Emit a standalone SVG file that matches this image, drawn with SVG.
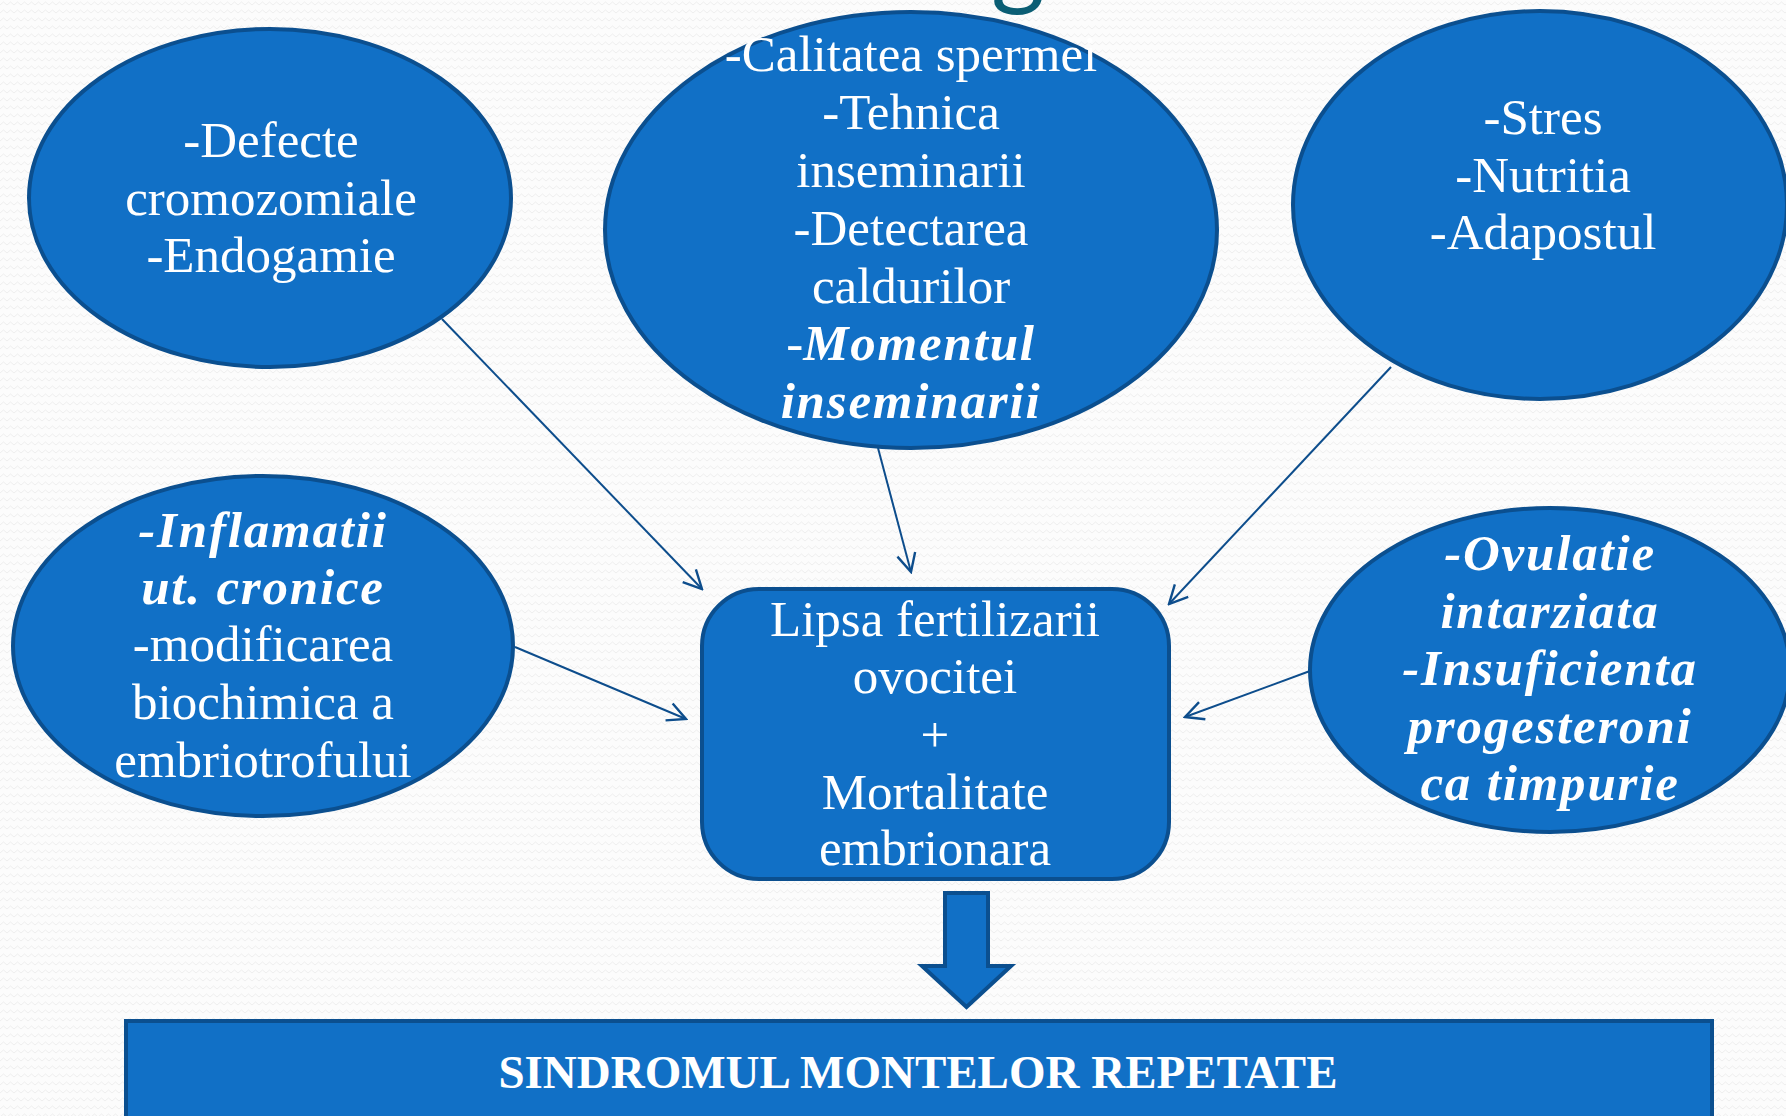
<svg xmlns="http://www.w3.org/2000/svg" width="1786" height="1116" viewBox="0 0 1786 1116">
<style>
.node{fill:#1170c6;stroke:#0b4f8f;stroke-width:4}
.t{font-family:"Liberation Serif","Times New Roman",serif;font-size:51px;fill:#ffffff;text-anchor:middle}
.bi{font-weight:bold;font-style:italic;letter-spacing:1.8px}
.title{font-size:47px;font-weight:bold}
.conn{stroke:#0d4d8c;stroke-width:2;fill:none}
</style>
<defs>
<pattern id="bg" width="14" height="8" patternUnits="userSpaceOnUse">
<rect width="14" height="8" fill="#fcfcfc"/>
<path d="M0,5 L3.5,2 L7,5 L10.5,2 L14,5" stroke="#eeeeee" stroke-width="1" fill="none"/>
</pattern>
<marker id="ah" viewBox="0 0 12 12" refX="11" refY="6" markerWidth="22" markerHeight="22" markerUnits="userSpaceOnUse" orient="auto">
<path d="M1,1 L11,6 L1,11" fill="none" stroke="#0d4d8c" stroke-width="1.3"/>
</marker>
</defs>
<rect width="1786" height="1116" fill="url(#bg)"/>
<text x="1018" y="-4" font-family="Lato, 'Open Sans', sans-serif" font-size="104" fill="#0b5e74" text-anchor="middle">g</text>

<g id="connectors">
<line class="conn" x1="442" y1="319" x2="702" y2="589" marker-end="url(#ah)"/>
<line class="conn" x1="878" y1="448" x2="911" y2="572" marker-end="url(#ah)"/>
<line class="conn" x1="1391" y1="367" x2="1169" y2="604" marker-end="url(#ah)"/>
<line class="conn" x1="515" y1="647" x2="686" y2="719" marker-end="url(#ah)"/>
<line class="conn" x1="1310" y1="671" x2="1185" y2="717" marker-end="url(#ah)"/>
<path id="block-arrow" d="M945,893 L988,893 L988,966 L1011,966 L966.5,1007 L922,966 L945,966 Z" fill="#1170c6" stroke="#0b4f8f" stroke-width="4" stroke-linejoin="miter"/>
</g>

<g id="n1">
<ellipse class="node" cx="270" cy="198" rx="241" ry="169"/>
<text class="t" x="271" y="157">-Defecte</text>
<text class="t" x="271" y="215">cromozomiale</text>
<text class="t" x="271" y="272">-Endogamie</text>
</g>

<g id="n2">
<ellipse class="node" cx="911" cy="230" rx="306" ry="218"/>
<text class="t" x="911" y="71">-Calitatea spermei</text>
<text class="t" x="911" y="129">-Tehnica</text>
<text class="t" x="911" y="187">inseminarii</text>
<text class="t" x="911" y="245">-Detectarea</text>
<text class="t" x="911" y="303">caldurilor</text>
<text class="t" x="911" y="360">-<tspan class="bi">Momentul</tspan></text>
<text class="t bi" x="911" y="418">inseminarii</text>
</g>

<g id="n3">
<ellipse class="node" cx="1540" cy="205" rx="247" ry="194"/>
<text class="t" x="1543" y="134">-Stres</text>
<text class="t" x="1543" y="192">-Nutritia</text>
<text class="t" x="1543" y="249">-Adapostul</text>
</g>

<g id="n4">
<ellipse class="node" cx="263" cy="646" rx="250" ry="170"/>
<text class="t bi" x="263" y="547">-Inflamatii</text>
<text class="t bi" x="263" y="604">ut. cronice</text>
<text class="t" x="263" y="661">-modificarea</text>
<text class="t" x="263" y="719">biochimica a</text>
<text class="t" x="263" y="777">embriotrofului</text>
</g>

<g id="n5">
<ellipse class="node" cx="1550" cy="670" rx="240" ry="162"/>
<text class="t bi" x="1550" y="570">-Ovulatie</text>
<text class="t bi" x="1550" y="628">intarziata</text>
<text class="t bi" x="1550" y="685">-Insuficienta</text>
<text class="t bi" x="1550" y="743">progesteroni</text>
<text class="t bi" x="1550" y="800">ca timpurie</text>
</g>

<g id="center">
<rect class="node" x="702" y="589" width="467" height="290" rx="57" ry="57"/>
<text class="t" x="935" y="636">Lipsa fertilizarii</text>
<text class="t" x="935" y="693">ovocitei</text>
<text class="t" x="935" y="752">+</text>
<text class="t" x="935" y="809">Mortalitate</text>
<text class="t" x="935" y="865">embrionara</text>
</g>

<g id="result">
<rect class="node" x="126" y="1021" width="1586" height="110"/>
<text class="t title" x="918" y="1088">SINDROMUL MONTELOR REPETATE</text>
</g>
</svg>
